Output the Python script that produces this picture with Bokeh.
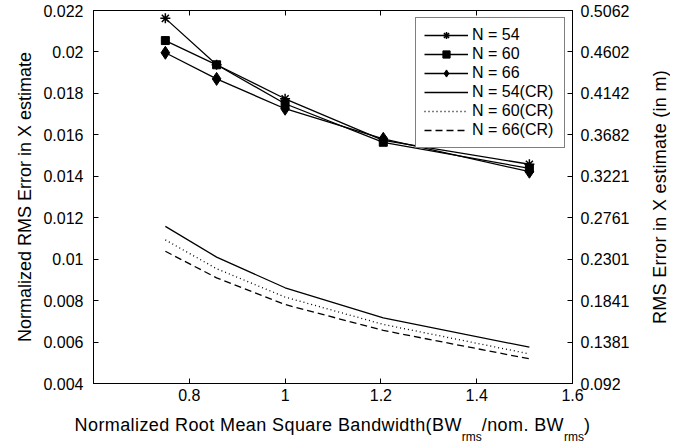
from bokeh.plotting import figure
from bokeh.models import LinearAxis, FixedTicker, Range1d, Legend, LegendItem, Div
from bokeh.layouts import row, column
from bokeh.embed import file_html
from bokeh.resources import INLINE

# ---------------- data ----------------
bandwidth = [0.75, 0.857, 1.0, 1.205, 1.51]
n54 = [0.02162, 0.01938, 0.01774, 0.01573, 0.01458]
n60 = [0.02055, 0.01938, 0.01750, 0.01564, 0.01438]
n66 = [0.01996, 0.01870, 0.01726, 0.01581, 0.01422]
n54_cr = [0.01158, 0.01010, 0.00862, 0.00717, 0.00575]
n60_cr = [0.01093, 0.00954, 0.00817, 0.00685, 0.00543]
n66_cr = [0.01038, 0.00910, 0.00781, 0.00656, 0.00519]

series_labels = ["N = 54", "N = 60", "N = 66", "N = 54(CR)", "N = 60(CR)", "N = 66(CR)"]

x_range = (0.6, 1.6)
y_range = (0.004, 0.022)
x_ticks = [0.8, 1.0, 1.2, 1.4, 1.6]
x_tick_labels = ["0.8", "1", "1.2", "1.4", "1.6"]
y_ticks = [0.004, 0.006, 0.008, 0.010, 0.012, 0.014, 0.016, 0.018, 0.020, 0.022]
y_tick_labels = ["0.004", "0.006", "0.008", "0.01", "0.012", "0.014", "0.016", "0.018", "0.02", "0.022"]
y_right_tick_labels = ["0.092", "0.1381", "0.1841", "0.2301", "0.2761", "0.3221",
                       "0.3682", "0.4142", "0.4602", "0.5062"]

y_label_left = "Normalized RMS Error in X estimate"
y_label_right = "RMS Error in X estimate (in m)"
x_label_main = "Normalized Root Mean Square Bandwidth(BW"
x_label_sub = "rms"
x_label_mid = "/nom. BW"
x_label_end = ")"

FONT = "Liberation Sans"
PW, PH = 645, 415

p = figure(width=PW, height=PH, output_backend="svg", toolbar_location=None,
           x_range=Range1d(*x_range), y_range=Range1d(*y_range),
           x_axis_type=None, y_axis_type=None,
           min_border_left=93, min_border_right=PW - 572, min_border_top=10,
           min_border_bottom=PH - 383)
p.outline_line_color = "black"
p.outline_line_width = 1
p.background_fill_color = "white"
p.border_fill_color = "white"


def style(ax):
    ax.axis_line_color = "black"
    ax.axis_line_width = 1
    ax.major_tick_in = 5
    ax.major_tick_out = 0
    ax.minor_tick_in = 0
    ax.minor_tick_out = 0
    ax.major_tick_line_color = "black"
    ax.major_label_text_font = FONT
    ax.major_label_text_font_size = "16px"
    ax.major_label_text_color = "black"
    return ax


xb = style(LinearAxis(ticker=FixedTicker(ticks=x_ticks),
                      major_label_overrides=dict(zip(x_ticks, x_tick_labels))))
xb.major_label_standoff = 5
p.add_layout(xb, "below")

xt = style(LinearAxis(ticker=FixedTicker(ticks=x_ticks)))
xt.major_label_text_font_size = "0px"
xt.major_label_text_color = None
xt.major_label_standoff = 0
p.add_layout(xt, "above")

yl = style(LinearAxis(ticker=FixedTicker(ticks=y_ticks),
                      major_label_overrides=dict(zip(y_ticks, y_tick_labels))))
yl.major_label_standoff = 10
yl.axis_label = y_label_left
yl.axis_label_text_font = FONT
yl.axis_label_text_font_size = "18px"
yl.axis_label_text_font_style = "normal"
yl.axis_label_text_color = "black"
yl.axis_label_standoff = 5
p.add_layout(yl, "left")

yr = style(LinearAxis(ticker=FixedTicker(ticks=y_ticks),
                      major_label_overrides=dict(zip(y_ticks, y_right_tick_labels))))
yr.major_label_standoff = 8
p.add_layout(yr, "right")

# ---------------- series ----------------
lw = 1.3
r54l = p.line(bandwidth, n54, line_color="black", line_width=lw)
r54m = p.scatter(bandwidth, n54, marker="asterisk", size=10, line_color="black", line_width=1.5)
r60l = p.line(bandwidth, n60, line_color="black", line_width=lw)
r60m = p.scatter(bandwidth, n60, marker="square", size=8, line_color="black", fill_color="black")
r66l = p.line(bandwidth, n66, line_color="black", line_width=lw)
r66m = p.scatter(bandwidth, n66, marker="diamond", size=13, line_color="black", fill_color="black")
c54 = p.line(bandwidth, n54_cr, line_color="black", line_width=lw)
c60 = p.line(bandwidth, n60_cr, line_color="black", line_width=lw, line_dash="1 3")
c66 = p.line(bandwidth, n66_cr, line_color="black", line_width=lw, line_dash="7 4")

legend = Legend(items=[
    LegendItem(label=series_labels[0], renderers=[r54l, r54m]),
    LegendItem(label=series_labels[1], renderers=[r60l, r60m]),
    LegendItem(label=series_labels[2], renderers=[r66l, r66m]),
    LegendItem(label=series_labels[3], renderers=[c54]),
    LegendItem(label=series_labels[4], renderers=[c60]),
    LegendItem(label=series_labels[5], renderers=[c66]),
], location="top_right")
legend.border_line_color = "black"
legend.border_line_width = 1
legend.background_fill_color = "white"
legend.background_fill_alpha = 1
legend.label_text_font = FONT
legend.label_text_font_size = "16px"
legend.label_text_color = "black"
legend.glyph_width = 44
legend.glyph_height = 18
legend.label_height = 18
legend.label_width = 84
legend.label_standoff = 4
legend.spacing = 1
legend.padding = 8
legend.margin = 7
p.add_layout(legend)

# ---------------- axis titles that need subscripts / reversed rotation ----------------
sub_style = "font-size:12px;vertical-align:-10px;letter-spacing:0;"
x_title_html = (
    f"<div style=\"width:{PW}px;box-sizing:border-box;padding-left:20px;text-align:center;"
    f"font-family:'{FONT}';font-size:18px;line-height:20px;color:black;letter-spacing:0.4px;"
    f"white-space:nowrap;\">{x_label_main}<span style=\"{sub_style}\">{x_label_sub}</span>"
    f"{x_label_mid}<span style=\"{sub_style}\">{x_label_sub}</span>{x_label_end}</div>"
)
x_title = Div(text=x_title_html, width=PW, height=443 - PH, margin=0)

RW = 30
y_title_html = (
    f"<div style=\"width:{RW}px;height:393px;writing-mode:vertical-rl;transform:rotate(180deg);"
    f"text-align:center;line-height:{RW}px;font-family:'{FONT}';font-size:18px;color:black;"
    f"letter-spacing:0.3px;white-space:nowrap;\">{y_label_right}</div>"
)
y_title = Div(text=y_title_html, width=RW, height=393, margin=0)

layout = row(column(p, x_title, spacing=0), y_title, spacing=0)

open("out.html", "w").write(file_html(layout, INLINE))
